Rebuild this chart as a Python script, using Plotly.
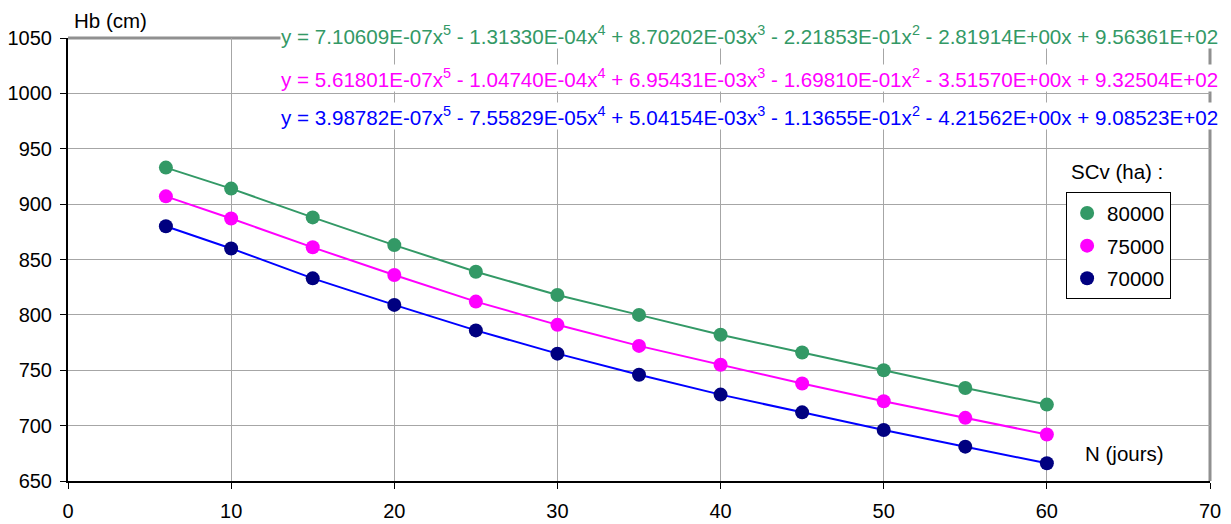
import plotly.graph_objects as go

x_days = [6, 10, 15, 20, 25, 30, 35, 40, 45, 50, 55, 60]
hb_80000 = [933, 914, 888, 863, 839, 818, 800, 782, 766, 750, 734, 719]
hb_75000 = [907, 887, 861, 836, 812, 791, 772, 755, 738, 722, 707, 692]
hb_70000 = [880, 860, 833, 809, 786, 765, 746, 728, 712, 696, 681, 666]

series_names = ["80000", "75000", "70000"]
line_colors = ["#339966", "#FF00FF", "#0000FF"]
marker_colors = ["#339966", "#FF00FF", "#000080"]
equations = [
    "y = 7.10609E-07x<sup>5</sup> - 1.31330E-04x<sup>4</sup> + 8.70202E-03x<sup>3</sup> - 2.21853E-01x<sup>2</sup> - 2.81914E+00x + 9.56361E+02",
    "y = 5.61801E-07x<sup>5</sup> - 1.04740E-04x<sup>4</sup> + 6.95431E-03x<sup>3</sup> - 1.69810E-01x<sup>2</sup> - 3.51570E+00x + 9.32504E+02",
    "y = 3.98782E-07x<sup>5</sup> - 7.55829E-05x<sup>4</sup> + 5.04154E-03x<sup>3</sup> - 1.13655E-01x<sup>2</sup> - 4.21562E+00x + 9.08523E+02",
]
all_series = [hb_80000, hb_75000, hb_70000]

FONT = "Liberation Sans, Arial, sans-serif"

fig = go.Figure()
for name, ys, lc, mc in zip(series_names, all_series, line_colors, marker_colors):
    fig.add_trace(go.Scatter(
        x=x_days, y=ys, mode="lines+markers", name=name, showlegend=False,
        line=dict(color=lc, width=2),
        marker=dict(color=mc, size=14),
    ))
for name, mc in zip(series_names, marker_colors):
    fig.add_trace(go.Scatter(
        x=[None], y=[None], mode="markers", name=name, showlegend=True,
        legendgroup=name,
        marker=dict(color=mc, size=14),
    ))

annotations = [
    dict(text="Hb (cm)", xref="paper", yref="paper", x=0.0368, y=1.04,
         xanchor="center", yanchor="middle", showarrow=False,
         font=dict(size=20.5, color="black", family=FONT)),
    dict(text="N (jours)", xref="paper", yref="paper", x=0.925, y=0.063,
         xanchor="center", yanchor="middle", showarrow=False,
         font=dict(size=20.5, color="black", family=FONT)),
    dict(text="SCv (ha) :", xref="paper", yref="paper", x=0.919, y=0.698,
         xanchor="center", yanchor="middle", showarrow=False,
         font=dict(size=20.5, color="black", family=FONT)),
]
eq_y = [1.007, 0.910, 0.824]
for eq, yy, c in zip(equations, eq_y, line_colors):
    annotations.append(dict(
        text=eq, xref="paper", yref="paper", x=0.1856, y=yy,
        xanchor="left", yanchor="middle", showarrow=False,
        bgcolor="white", borderpad=0,
        font=dict(size=20.6, color=c, family=FONT)))

fig.update_layout(
    width=1231, height=524,
    margin=dict(l=68, r=21, t=38, b=43, autoexpand=False),
    paper_bgcolor="white", plot_bgcolor="white",
    font=dict(family=FONT, size=20, color="black"),
    showlegend=True,
    legend=dict(x=0.874, y=0.652, xanchor="left", yanchor="top",
                bgcolor="white", bordercolor="black", borderwidth=1,
                font=dict(size=20.5, color="black", family=FONT),
                itemwidth=30, traceorder="grouped", tracegroupgap=3),
    xaxis=dict(range=[0, 70], tick0=0, dtick=10, showgrid=True,
               automargin=False,
               gridcolor="#a6a6a6", gridwidth=1,
               showline=True, linecolor="black", linewidth=2,
               ticks="outside", ticklen=6, tickcolor="black",
               ticklabelstandoff=5,
               tickfont=dict(size=20, family=FONT), zeroline=False),
    yaxis=dict(range=[650, 1050], tick0=650, dtick=50, showgrid=True,
               automargin=False,
               gridcolor="#a6a6a6", gridwidth=1,
               showline=True, linecolor="black", linewidth=2,
               ticks="outside", ticklen=6, tickcolor="black",
               ticklabelstandoff=4,
               tickfont=dict(size=20, family=FONT), zeroline=False),
    annotations=annotations,
    shapes=[
        dict(type="line", xref="paper", yref="paper", x0=0, x1=1, y0=1, y1=1,
             line=dict(color="#909090", width=3), layer="below"),
        dict(type="line", xref="paper", yref="paper", x0=1, x1=1, y0=0, y1=1,
             line=dict(color="#909090", width=3), layer="below"),
    ],
)

fig.write_html("out.html")
